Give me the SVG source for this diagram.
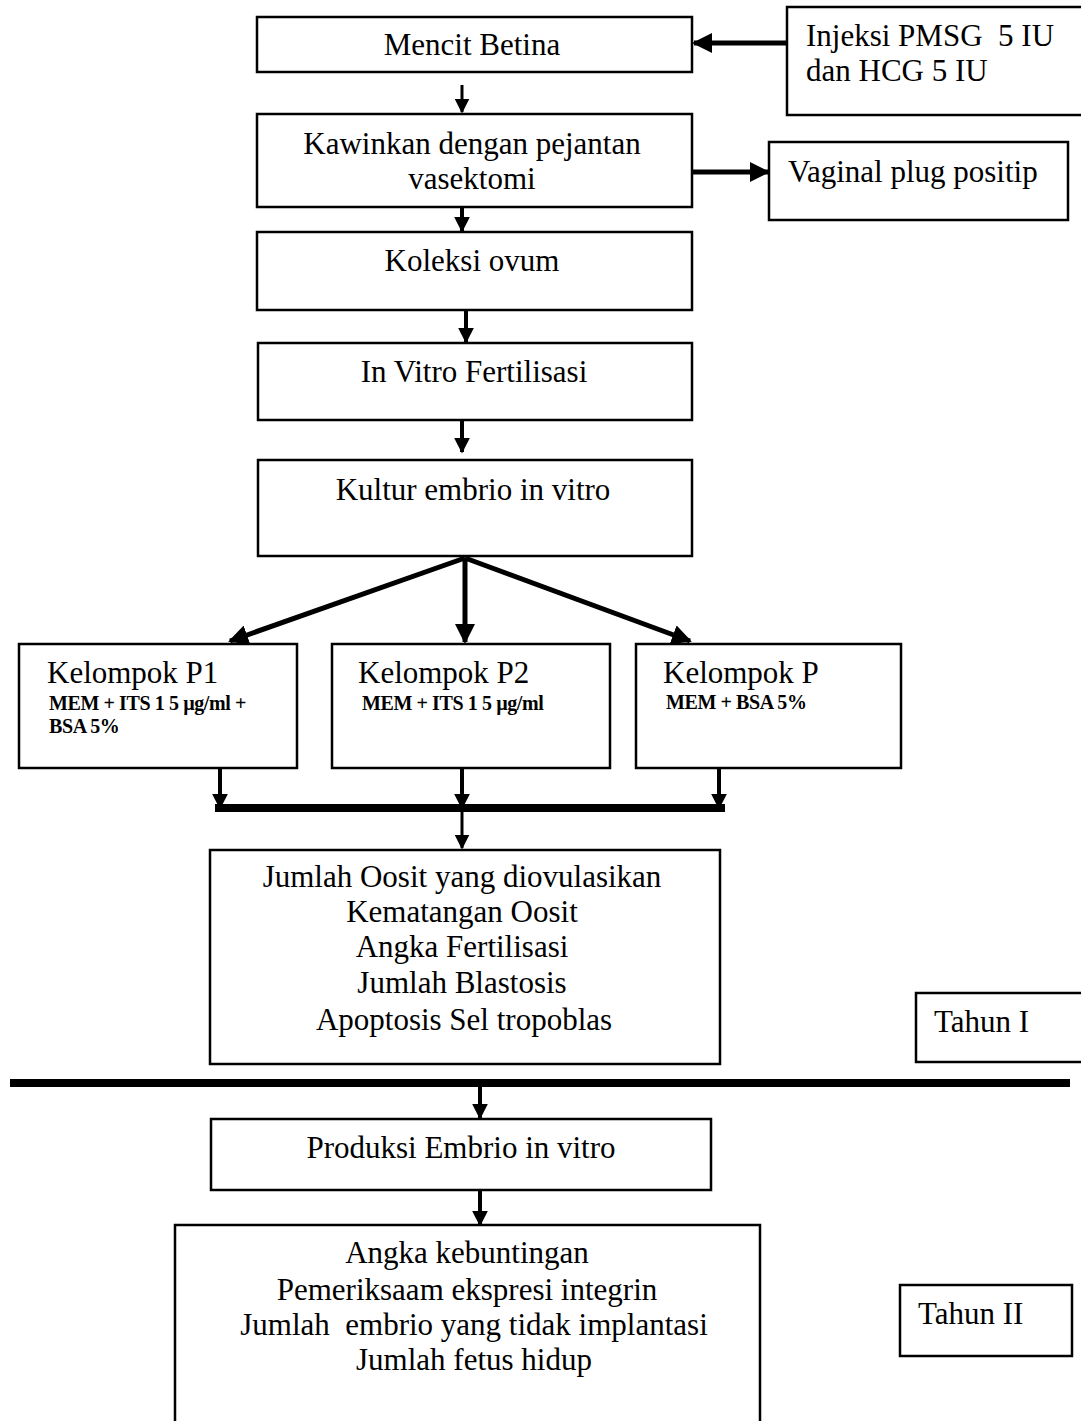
<svg xmlns="http://www.w3.org/2000/svg" width="1081" height="1421" viewBox="0 0 1081 1421">
<defs>
<style>
.box{fill:#fff;stroke:#000;stroke-width:2.5}
.t{font-family:"Liberation Serif","Times New Roman",serif;font-size:31px;fill:#000;white-space:pre}
.c{text-anchor:middle}
.s{font-family:"Liberation Serif","Times New Roman",serif;font-size:20px;font-weight:bold;fill:#000;letter-spacing:-0.4px}
.ln{stroke:#000;fill:none}
</style>
<marker id="ah" viewBox="0 0 10 10" refX="9" refY="5" markerWidth="4" markerHeight="4" orient="auto" markerUnits="strokeWidth"><path d="M0,0 L10,5 L0,10 z" fill="#000"/></marker>
<marker id="ahs" viewBox="0 0 10 10" refX="9" refY="5" markerWidth="5" markerHeight="5" orient="auto" markerUnits="strokeWidth"><path d="M0,0 L10,5 L0,10 z" fill="#000"/></marker>
</defs>
<rect width="1081" height="1421" fill="#fff"/>
<g id="connectors">
<line class="ln" x1="787" y1="43" x2="694" y2="43" stroke-width="5" marker-end="url(#ah)"/>
<line class="ln" x1="462" y1="85" x2="462" y2="112" stroke-width="3" marker-end="url(#ahs)"/>
<line class="ln" x1="692" y1="172" x2="768" y2="172" stroke-width="5" marker-end="url(#ah)"/>
<line class="ln" x1="462" y1="207" x2="462" y2="231" stroke-width="4" marker-end="url(#ah)"/>
<line class="ln" x1="466" y1="310" x2="466" y2="342" stroke-width="4" marker-end="url(#ah)"/>
<line class="ln" x1="462" y1="420" x2="462" y2="452" stroke-width="4" marker-end="url(#ah)"/>
<line class="ln" x1="465" y1="558" x2="230" y2="641" stroke-width="5" marker-end="url(#ah)"/>
<line class="ln" x1="465" y1="558" x2="465" y2="642" stroke-width="5" marker-end="url(#ah)"/>
<line class="ln" x1="465" y1="558" x2="690" y2="641" stroke-width="5" marker-end="url(#ah)"/>
<line class="ln" x1="220" y1="768" x2="220" y2="808" stroke-width="4" marker-end="url(#ah)"/>
<line class="ln" x1="462" y1="768" x2="462" y2="808" stroke-width="4" marker-end="url(#ah)"/>
<line class="ln" x1="719" y1="768" x2="719" y2="808" stroke-width="4" marker-end="url(#ah)"/>
<line class="ln" x1="215" y1="808" x2="725" y2="808" stroke-width="8"/>
<line class="ln" x1="462" y1="808" x2="462" y2="848" stroke-width="3" marker-end="url(#ahs)"/>
<line class="ln" x1="10" y1="1083" x2="1070" y2="1083" stroke-width="8"/>
<line class="ln" x1="480" y1="1083" x2="480" y2="1118" stroke-width="4" marker-end="url(#ah)"/>
<line class="ln" x1="480" y1="1190" x2="480" y2="1225" stroke-width="4" marker-end="url(#ah)"/>
</g>
<g id="mencit"><rect class="box" x="257" y="17" width="435" height="55"/><text class="t c" x="472" y="55">Mencit Betina</text></g>
<g id="injeksi"><rect class="box" x="787" y="7" width="300" height="108"/><text class="t" x="806" y="46">Injeksi PMSG  5 IU</text><text class="t" x="806" y="81">dan HCG 5 IU</text></g>
<g id="kawinkan"><rect class="box" x="257" y="114" width="435" height="93"/><text class="t c" x="472" y="154">Kawinkan dengan pejantan</text><text class="t c" x="472" y="189">vasektomi</text></g>
<g id="vaginal"><rect class="box" x="769" y="142" width="299" height="78"/><text class="t" x="788" y="182">Vaginal plug positip</text></g>
<g id="koleksi"><rect class="box" x="257" y="232" width="435" height="78"/><text class="t c" x="472" y="271">Koleksi ovum</text></g>
<g id="ivf"><rect class="box" x="258" y="343" width="434" height="77"/><text class="t c" x="474" y="382">In Vitro Fertilisasi</text></g>
<g id="kultur"><rect class="box" x="258" y="460" width="434" height="96"/><text class="t c" x="473" y="500">Kultur embrio in vitro</text></g>
<g id="p1"><rect class="box" x="19" y="644" width="278" height="124"/><text class="t" x="47" y="683">Kelompok P1</text><text class="s" x="49" y="710">MEM + ITS 1 5 µg/ml +</text><text class="s" x="49" y="733">BSA 5%</text></g>
<g id="p2"><rect class="box" x="332" y="644" width="278" height="124"/><text class="t" x="358" y="683">Kelompok P2</text><text class="s" x="362" y="710">MEM + ITS 1 5 µg/ml</text></g>
<g id="p"><rect class="box" x="636" y="644" width="265" height="124"/><text class="t" x="663" y="683">Kelompok P</text><text class="s" x="666" y="709">MEM + BSA 5%</text></g>
<g id="hasil1"><rect class="box" x="210" y="850" width="510" height="214"/>
<text class="t c" x="462" y="887">Jumlah Oosit yang diovulasikan</text>
<text class="t c" x="462" y="922">Kematangan Oosit</text>
<text class="t c" x="462" y="957">Angka Fertilisasi</text>
<text class="t c" x="462" y="993">Jumlah Blastosis</text>
<text class="t c" x="464" y="1030">Apoptosis Sel tropoblas</text></g>
<g id="tahun1"><rect class="box" x="916" y="993" width="170" height="69"/><text class="t" x="934" y="1032">Tahun I</text></g>
<g id="produksi"><rect class="box" x="211" y="1119" width="500" height="71"/><text class="t c" x="461" y="1158">Produksi Embrio in vitro</text></g>
<g id="hasil2"><rect class="box" x="175" y="1225" width="585" height="210"/>
<text class="t c" x="467" y="1263">Angka kebuntingan</text>
<text class="t c" x="467" y="1300">Pemeriksaam ekspresi integrin</text>
<text class="t c" x="474" y="1335">Jumlah  embrio yang tidak implantasi</text>
<text class="t c" x="474" y="1370">Jumlah fetus hidup</text></g>
<g id="tahun2"><rect class="box" x="900" y="1285" width="172" height="71"/><text class="t" x="918" y="1324">Tahun II</text></g>
</svg>
